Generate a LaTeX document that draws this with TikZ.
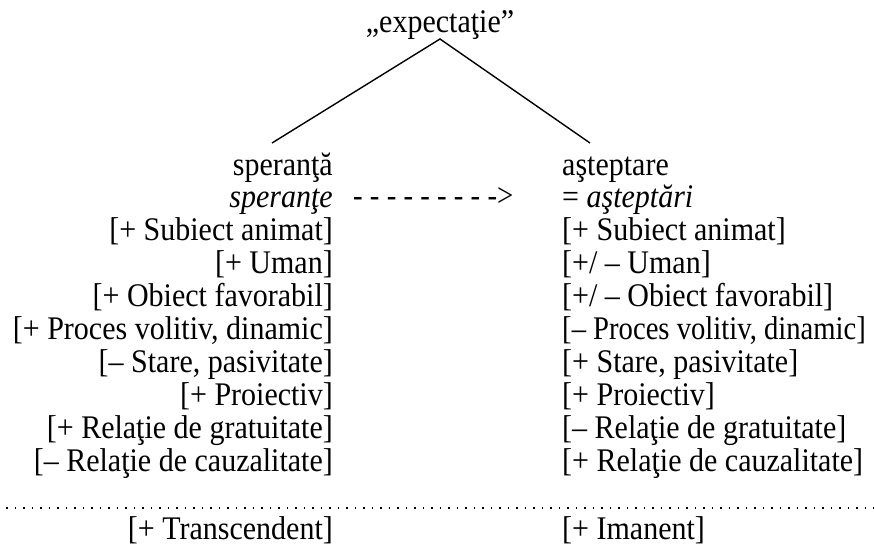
\documentclass[tikz,border=0pt]{standalone}
\usepackage{fontspec}
\setmainfont{Liberation Serif}
\newcommand{\tall}[2][1]{\scalebox{#1}[1.1]{#2}}
\begin{document}
\begin{tikzpicture}[x=1pt,y=-1pt,
  every node/.style={inner sep=0pt,font=\fontsize{30}{36}\selectfont},
  lcol/.style={anchor=base east},
  rcol/.style={anchor=base west},
  branch/.style={line width=1.4pt}]
\useasboundingbox (0,0) rectangle (874,547);
\node[anchor=base] (title) at (440,32) {\tall{„expectaţie”}};
\coordinate (apex) at (440,39);
\coordinate (lend) at (272,143);
\coordinate (rend) at (590,143);
\draw[branch] (lend) -- (apex) -- (rend);
% left column
\node[lcol] (l0) at (333,175) {\tall{speranţă}};
\node[lcol] (l1) at (333,207) {\tall{\textit{speranţe}}};
\node[lcol] (l2) at (333,240) {\tall{[+ Subiect animat]}};
\node[lcol] (l3) at (333,273) {\tall{[+ Uman]}};
\node[lcol] (l4) at (333,306) {\tall{[+ Obiect favorabil]}};
\node[lcol] (l5) at (333,339) {\tall{[+ Proces volitiv, dinamic]}};
\node[lcol] (l6) at (333,372) {\tall{[– Stare, pasivitate]}};
\node[lcol] (l7) at (333,405) {\tall{[+ Proiectiv]}};
\node[lcol] (l8) at (333,438) {\tall{[+ Relaţie de gratuitate]}};
\node[lcol] (l9) at (333,471) {\tall{[– Relaţie de cauzalitate]}};
\node[lcol] (l10) at (333,539) {\tall{[+ Transcendent]}};
% right column
\node[rcol] (r0) at (562,175) {\tall{aşteptare}};
\node[rcol] (r1) at (562,207) {\tall{= \textit{aşteptări}}};
\node[rcol] (r2) at (562,240) {\tall{[+ Subiect animat]}};
\node[rcol] (r3) at (562,273) {\tall{[+/ – Uman]}};
\node[rcol] (r4) at (562,306) {\tall{[+/ – Obiect favorabil]}};
\node[rcol] (r5) at (562,339) {\tall[0.955]{[– Proces volitiv, dinamic]}};
\node[rcol] (r6) at (562,372) {\tall{[+ Stare, pasivitate]}};
\node[rcol] (r7) at (562,405) {\tall{[+ Proiectiv]}};
\node[rcol] (r8) at (562,438) {\tall{[– Relaţie de gratuitate]}};
\node[rcol] (r9) at (562,471) {\tall{[+ Relaţie de cauzalitate]}};
\node[rcol] (r10) at (562,539) {\tall{[+ Imanent]}};
% dashed arrow text
\node[anchor=base west] (arrow) at (353,206) {\tall[0.96]{- - - - - - - - ->}};
% dotted separator
\coordinate (dl) at (6,508);
\coordinate (dr) at (874,508);
\draw[line width=1.6pt, dash pattern=on 1.6pt off 6.9pt] (dl) -- (dr);
\end{tikzpicture}
\end{document}
